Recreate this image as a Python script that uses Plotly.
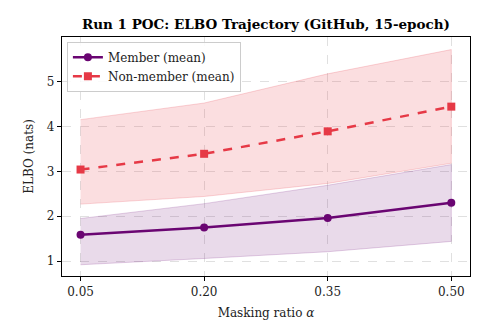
import plotly.graph_objects as go

alphas = [0.05, 0.20, 0.35, 0.50]
tick_labels = ["0.05", "0.20", "0.35", "0.50"]
member_mean = [1.59, 1.75, 1.96, 2.30]
member_lo = [0.92, 1.06, 1.21, 1.44]
member_hi = [1.95, 2.28, 2.69, 3.15]
nonmember_mean = [3.04, 3.39, 3.89, 4.44]
nonmember_lo = [2.27, 2.44, 2.73, 3.18]
nonmember_hi = [4.15, 4.52, 5.17, 5.71]

PURPLE = "#6a0572"
RED = "#e63946"
FONT = "DejaVu Serif"

fig = go.Figure()

def band(lo, hi, rgba_fill, rgba_line):
    fig.add_trace(go.Scatter(x=alphas + alphas[::-1], y=hi + lo[::-1], fill="toself",
                             fillcolor=rgba_fill, line=dict(color=rgba_line, width=1),
                             mode="lines", showlegend=False, hoverinfo="skip"))

band(member_lo, member_hi, "rgba(106,5,114,0.15)", "rgba(106,5,114,0.18)")
band(nonmember_lo, nonmember_hi, "rgba(230,57,70,0.17)", "rgba(230,57,70,0.2)")

fig.add_trace(go.Scatter(x=alphas, y=member_mean, mode="lines+markers", name="Member (mean)",
                         line=dict(color=PURPLE, width=2.5),
                         marker=dict(symbol="circle", size=8, color=PURPLE)))
fig.add_trace(go.Scatter(x=alphas, y=nonmember_mean, mode="lines+markers", name="Non-member (mean)",
                         line=dict(color=RED, width=2.5, dash="dash"),
                         marker=dict(symbol="square", size=8, color=RED)))

axis_common = dict(showline=True, linecolor="black", linewidth=1.2, mirror=True,
                   ticks="outside", ticklen=4, tickcolor="black",
                   showgrid=True, gridcolor="rgba(0,0,0,0.12)", griddash="dash", gridwidth=1,
                   zeroline=False, tickfont=dict(family=FONT, size=12, color="#222"))

fig.update_layout(
    width=491, height=333,
    margin=dict(l=62, r=21, t=37, b=57),
    paper_bgcolor="white", plot_bgcolor="white",
    title=dict(text="<b>Run 1 POC: ELBO Trajectory (GitHub, 15-epoch)</b>",
               font=dict(family=FONT, size=13.5, color="black"),
               x=0.5418, xanchor="center", y=0.928, yanchor="middle"),
    xaxis=dict(range=[0.0275, 0.5227], tickvals=alphas, ticktext=tick_labels,
               title=dict(text="Masking ratio <i>α</i>", font=dict(family=FONT, size=12, color="#222"), standoff=11),
               **axis_common),
    yaxis=dict(range=[0.67, 5.99], tickvals=[1, 2, 3, 4, 5],
               title=dict(text="ELBO (nats)", font=dict(family=FONT, size=12, color="#222"), standoff=10),
               **axis_common),
    legend=dict(x=0.012, y=0.98, xanchor="left", yanchor="top",
                bgcolor="rgba(255,255,255,0.85)", bordercolor="#cccccc", borderwidth=1,
                font=dict(family=FONT, size=12, color="#222"), tracegroupgap=0, itemwidth=30),
)

fig.write_html("out.html")
